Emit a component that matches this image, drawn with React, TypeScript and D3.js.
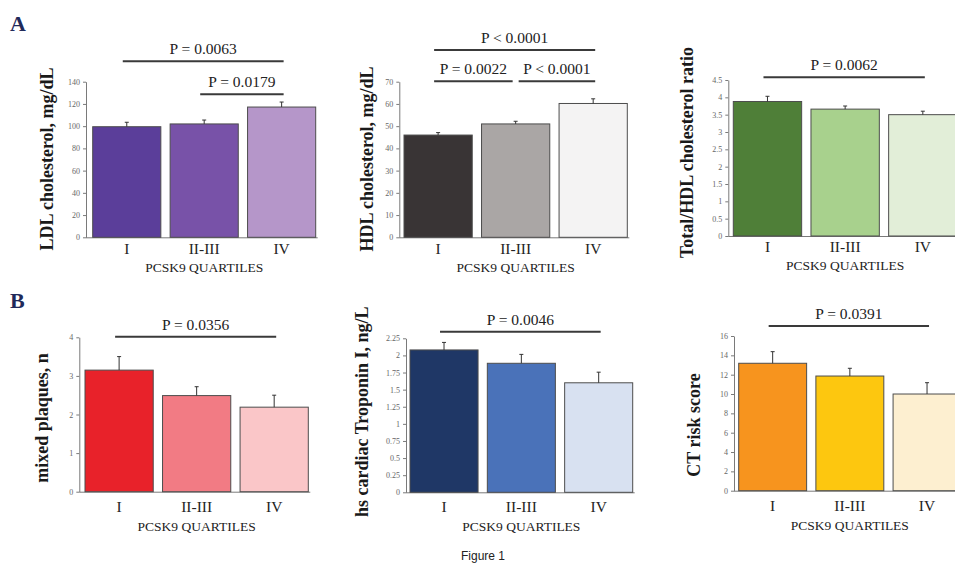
import { useEffect, useRef } from "react";
import * as d3 from "d3";

// PCSK9 quartile groups, same for every panel
const categories = ["I", "II-III", "IV"];

// A: LDL cholesterol
const ldlValues = [99.5, 102, 117.2];
const ldlErrors = [4, 3.5, 4.5];
const ldlTicks = [0, 20, 40, 60, 80, 100, 120, 140];
const ldlColors = ["#5b3e9a", "#7852a8", "#b596c9"];
const ldlP = [
  { from: 0, to: 2, label: "P = 0.0063" },
  { from: 1, to: 2, label: "P = 0.0179" },
];

// A: HDL cholesterol
const hdlValues = [46, 51, 60.2];
const hdlErrors = [1.1, 1.2, 2.1];
const hdlTicks = [0, 10, 20, 30, 40, 50, 60, 70];
const hdlColors = ["#393435", "#aaa6a5", "#f4f3f3"];
const hdlP = [
  { from: 0, to: 2, label: "P < 0.0001" },
  { from: 0, to: 1, label: "P = 0.0022" },
  { from: 1, to: 2, label: "P < 0.0001" },
];

// A: Total/HDL ratio
const ratioValues = [3.88, 3.66, 3.5];
const ratioErrors = [0.15, 0.09, 0.1];
const ratioTicks = [0, 0.5, 1, 1.5, 2, 2.5, 3, 3.5, 4, 4.5];
const ratioColors = ["#4f7f38", "#a8d18d", "#e2eed8"];
const ratioP = [{ from: 0, to: 2, label: "P = 0.0062" }];

// B: mixed plaques
const plaqueValues = [3.15, 2.49, 2.19];
const plaqueErrors = [0.35, 0.23, 0.31];
const plaqueTicks = [0, 1, 2, 3, 4];
const plaqueColors = ["#e8222a", "#f27b84", "#fac6c8"];
const plaqueP = [{ from: 0, to: 2, label: "P = 0.0356" }];

// B: hs troponin
const troponinValues = [2.08, 1.885, 1.6];
const troponinErrors = [0.11, 0.13, 0.155];
const troponinTicks = [0, 0.25, 0.5, 0.75, 1, 1.25, 1.5, 1.75, 2, 2.25];
const troponinColors = ["#1f3766", "#4a72b9", "#d8e1f1"];
const troponinP = [{ from: 0, to: 2, label: "P = 0.0046" }];

// B: CT risk score
const ctValues = [13.18, 11.86, 10.0];
const ctErrors = [1.2, 0.8, 1.17];
const ctTicks = [0, 2, 4, 6, 8, 10, 12, 14, 16];
const ctColors = ["#f7941e", "#fdc70f", "#fdefd0"];
const ctP = [{ from: 0, to: 2, label: "P = 0.0391" }];

const panels = [
  { values: ldlValues, errors: ldlErrors, ticks: ldlTicks, colors: ldlColors, sig: ldlP,
    ylabel: "LDL cholesterol, mg/dL",
    axisX: 86, x0: 92.7, x1: 315.7, yTop: 81.7, yBot: 237.3, sigY: [61.3, 94.3],
    labX: 46.7, labY: 159, catDy: 16.5, titleDy: 35 },
  { values: hdlValues, errors: hdlErrors, ticks: hdlTicks, colors: hdlColors, sig: hdlP,
    ylabel: "HDL cholesterol, mg/dL",
    axisX: 399.3, x0: 404, x1: 627.3, yTop: 81.7, yBot: 237.3, sigY: [50, 81.3, 81.3],
    labX: 366.7, labY: 159, catDy: 16.5, titleDy: 35 },
  { values: ratioValues, errors: ratioErrors, ticks: ratioTicks, colors: ratioColors, sig: ratioP,
    ylabel: "Total/HDL cholesterol ratio",
    axisX: 728.3, x0: 733.3, x1: 957, yTop: 80, yBot: 236, sigY: [77.3],
    labX: 686.7, labY: 152.5, catDy: 16, titleDy: 34 },
  { values: plaqueValues, errors: plaqueErrors, ticks: plaqueTicks, colors: plaqueColors, sig: plaqueP,
    ylabel: "mixed plaques, n",
    axisX: 79.3, x0: 85, x1: 308.3, yTop: 337.3, yBot: 491.7, sigY: [336.7],
    labX: 41.7, labY: 418, catDy: 20, titleDy: 39 },
  { values: troponinValues, errors: troponinErrors, ticks: troponinTicks, colors: troponinColors, sig: troponinP,
    ylabel: "hs cardiac Troponin I, ng/L",
    axisX: 406, x0: 410, x1: 632.7, yTop: 338.3, yBot: 492.3, sigY: [331.7],
    labX: 361.7, labY: 411.7, catDy: 20, titleDy: 38.5 },
  { values: ctValues, errors: ctErrors, ticks: ctTicks, colors: ctColors, sig: ctP,
    ylabel: "CT risk score",
    axisX: 734, x0: 738.7, x1: 961, yTop: 336, yBot: 490.7, sigY: [326],
    labX: 693.3, labY: 425, catDy: 20.5, titleDy: 39.5 },
];

const serif = "'Liberation Serif', 'Times New Roman', serif";

export default function App() {
  const svgRef = useRef(null);

  useEffect(() => {
    const svg = d3.select(svgRef.current);
    svg.selectAll("*").remove();

    panels.forEach((p) => {
      const g = svg.append("g");
      const x = d3.scaleBand().domain(categories).range([p.x0, p.x1]).paddingInner(0.12).paddingOuter(0);
      const y = d3.scaleLinear().domain([0, p.ticks[p.ticks.length - 1]]).range([p.yBot, p.yTop]);
      const cx = (i) => x(categories[i]) + x.bandwidth() / 2;

      const yAxis = d3.axisLeft(y).tickValues(p.ticks).tickSize(3).tickSizeOuter(0).tickPadding(3).tickFormat(d3.format("~g"));
      const ax = g.append("g").attr("transform", `translate(${p.axisX},0)`).call(yAxis);
      ax.selectAll("path, line").attr("stroke", "#7a7a7a");
      ax.selectAll("text").attr("font-family", serif).attr("font-size", 8).attr("fill", "#666");

      g.append("line")
        .attr("x1", p.axisX).attr("x2", p.x1 + 2)
        .attr("y1", p.yBot + 0.5).attr("y2", p.yBot + 0.5)
        .attr("stroke", "#7a7a7a");

      g.selectAll(".bar")
        .data(p.values)
        .join("rect")
        .attr("class", "bar")
        .attr("x", (d, i) => x(categories[i]))
        .attr("y", (d) => y(d))
        .attr("width", x.bandwidth())
        .attr("height", (d) => p.yBot - y(d))
        .attr("fill", (d, i) => p.colors[i])
        .attr("stroke", "#4d4d4d")
        .attr("stroke-width", 1);

      // upper error bars only
      p.values.forEach((v, i) => {
        const top = y(v + p.errors[i]);
        g.append("line").attr("x1", cx(i)).attr("x2", cx(i)).attr("y1", y(v)).attr("y2", top).attr("stroke", "#333");
        g.append("line").attr("x1", cx(i) - 2).attr("x2", cx(i) + 2).attr("y1", top).attr("y2", top).attr("stroke", "#333");
      });

      g.selectAll(".cat")
        .data(categories)
        .join("text")
        .attr("class", "cat")
        .attr("x", (d, i) => cx(i))
        .attr("y", p.yBot + p.catDy)
        .attr("text-anchor", "middle")
        .attr("font-family", serif)
        .attr("font-size", 15.5)
        .attr("fill", "#222")
        .text((d) => d);

      g.append("text")
        .attr("x", cx(1))
        .attr("y", p.yBot + p.titleDy)
        .attr("text-anchor", "middle")
        .attr("font-family", serif)
        .attr("font-size", 13.5)
        .attr("fill", "#222")
        .text("PCSK9 QUARTILES");

      g.append("text")
        .attr("transform", `translate(${p.labX},${p.labY}) rotate(-90)`)
        .attr("dy", "0.35em")
        .attr("text-anchor", "middle")
        .attr("font-family", serif)
        .attr("font-weight", "bold")
        .attr("font-size", 18)
        .attr("fill", "#1a1a1a")
        .text(p.ylabel);

      // significance brackets
      p.sig.forEach((s, k) => {
        const ly = p.sigY[k];
        const shared = p.sig.filter((o, j) => j !== k && p.sigY[j] === ly);
        const startJoin = shared.some((o) => o.to === s.from);
        const endJoin = shared.some((o) => o.from === s.to);
        const xa = startJoin ? cx(s.from) + 3 : cx(s.from) - 4;
        const xb = endJoin ? cx(s.to) - 3 : cx(s.to) + 2;
        g.append("line").attr("x1", xa).attr("x2", xb).attr("y1", ly).attr("y2", ly)
          .attr("stroke", "#3a3a3a").attr("stroke-width", 2);
        g.append("text")
          .attr("x", (xa + xb) / 2)
          .attr("y", ly - 7)
          .attr("text-anchor", "middle")
          .attr("font-family", serif)
          .attr("font-size", 15.5)
          .attr("fill", "#222")
          .text(s.label);
      });
    });

    svg.append("text").attr("x", 10).attr("y", 31).attr("font-family", serif).attr("font-weight", "bold")
      .attr("font-size", 22).attr("fill", "#1f2a5a").text("A");
    svg.append("text").attr("x", 10).attr("y", 308).attr("font-family", serif).attr("font-weight", "bold")
      .attr("font-size", 22).attr("fill", "#1f2a5a").text("B");
    svg.append("text").attr("x", 483).attr("y", 560).attr("text-anchor", "middle")
      .attr("font-family", "'Liberation Sans', Arial, sans-serif").attr("font-size", 12).attr("fill", "#222")
      .text("Figure 1");
  }, []);

  return (
    <svg ref={svgRef} width={955} height={566} style={{ position: "absolute", left: 0, top: 0, background: "#fff" }} />
  );
}
